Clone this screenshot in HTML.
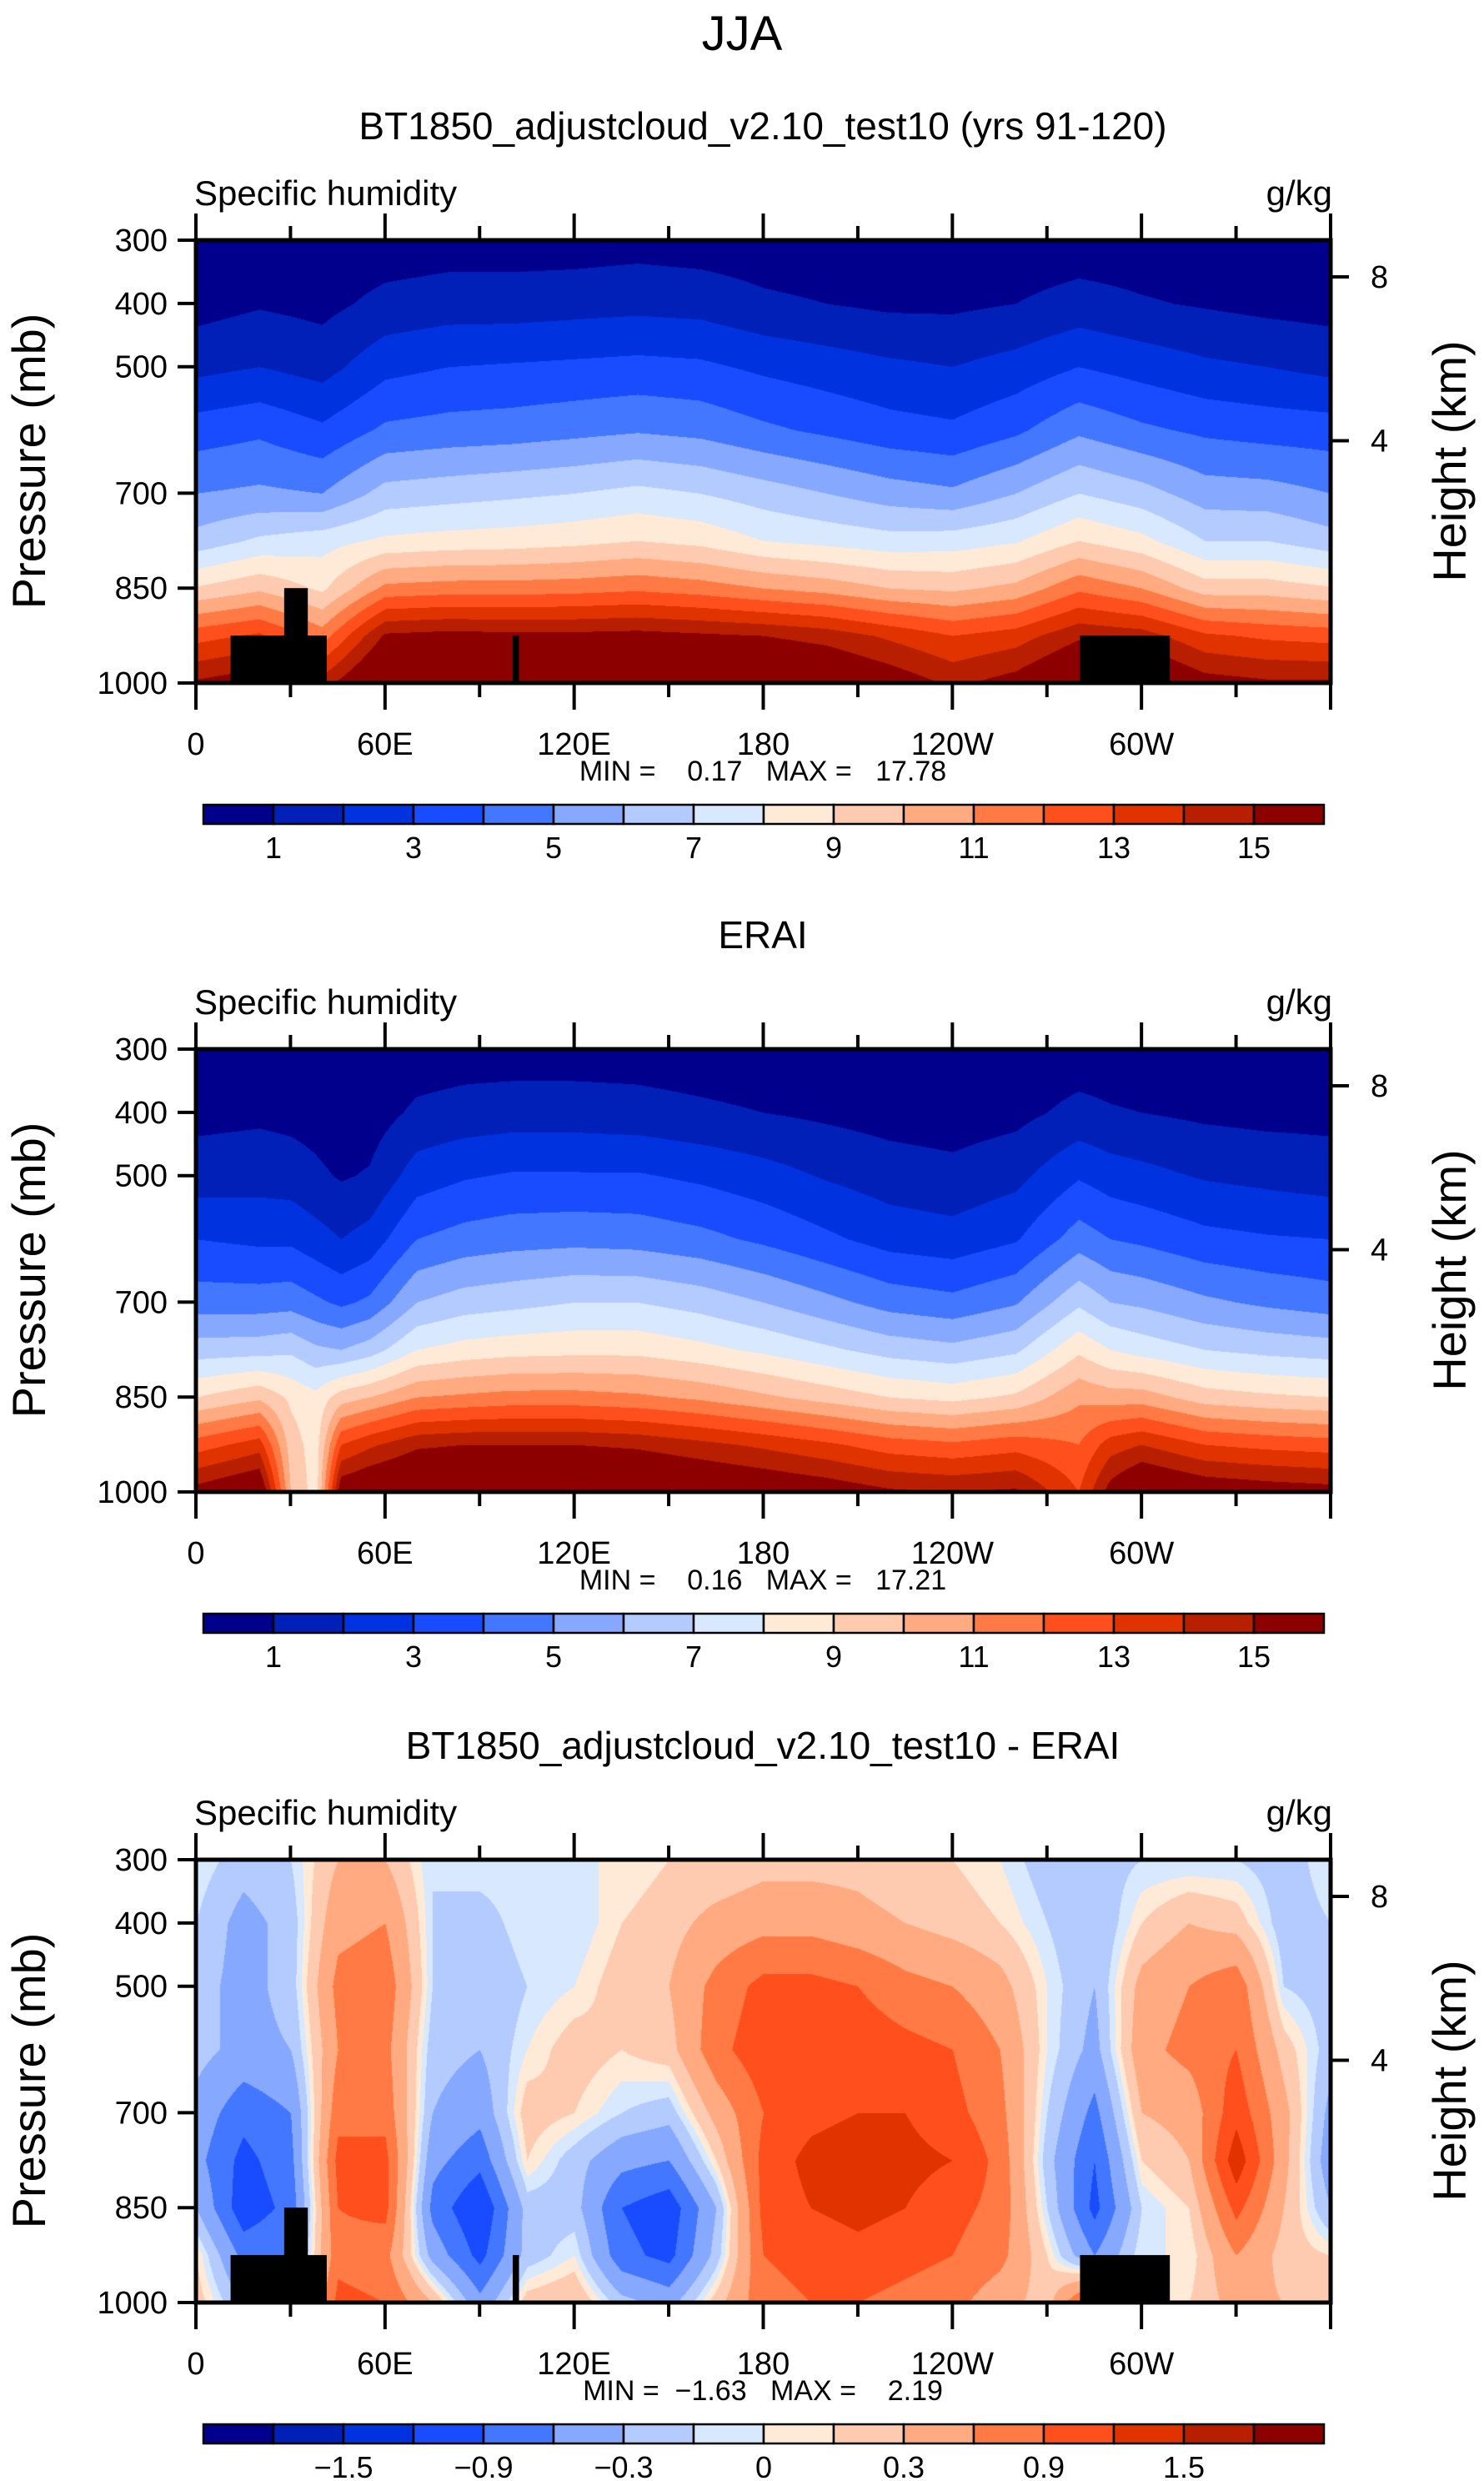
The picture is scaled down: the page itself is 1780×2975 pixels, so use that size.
<!DOCTYPE html>
<html><head><meta charset="utf-8">
<style>
html,body{margin:0;padding:0;background:#fff;}
#root{position:relative;width:1780px;height:2975px;overflow:hidden;background:#fff;}
canvas{position:absolute;}
svg{position:absolute;left:0;top:0;}
text{font-family:"Liberation Sans",sans-serif;fill:#000;}
.nar{font-family:"Liberation Sans Narrow","Liberation Sans",sans-serif;white-space:pre;}
</style></head>
<body>
<div id="root">
<svg id="svg" width="1780" height="2975">
<text x="890" y="60" font-size="58" text-anchor="middle" font-weight="300">JJA</text>
</svg>
</div>
<script>
// ---- data ----
const pressureLevels = [1000,925,850,775,700,600,500,400,300];
const lonGridA = [0,20,40,60,80,100,120,140,160,180,200,220,240,260,280,300,320,340,360];
const modelQ = [
[15.2,12.6,9.1,6.4,5.0,3.5,1.7,0.6,0.3],
[15.8,13.2,9.8,7.2,5.2,3.8,2.0,0.9,0.3],
[14.5,11.5,8.8,7.6,5.0,3.2,1.6,0.7,0.3],
[17.2,15.2,11.3,8.2,6.4,4.2,2.7,1.3,0.4],
[17.4,15.4,11.5,8.4,6.6,4.4,3.0,1.5,0.5],
[17.2,15.3,11.5,8.5,6.8,4.5,3.1,1.5,0.5],
[17.2,15.3,11.6,8.7,7.0,4.7,3.2,1.6,0.5],
[17.3,15.4,11.8,9.0,7.3,4.9,3.3,1.7,0.6],
[17.2,15.2,11.5,8.7,7.0,4.7,3.2,1.6,0.5],
[17.0,15.0,11.0,8.0,6.5,4.2,2.8,1.2,0.4],
[16.6,14.6,10.6,7.7,6.0,3.8,2.5,1.0,0.3],
[15.8,13.8,10.0,7.4,5.5,3.4,2.2,0.8,0.3],
[14.8,13.0,9.8,7.5,5.2,3.2,2.0,0.8,0.3],
[15.5,13.5,10.3,7.9,6.0,3.8,2.4,1.0,0.3],
[17.0,14.8,11.8,9.0,7.0,4.8,3.0,1.4,0.4],
[16.8,14.5,11.0,8.3,6.4,4.2,2.6,1.1,0.4],
[15.5,13.2,9.5,7.0,5.5,3.8,2.2,0.9,0.3],
[15.2,12.8,9.5,7.0,5.4,3.6,2.0,0.7,0.3],
[15.2,12.6,9.1,6.4,5.0,3.5,1.7,0.6,0.3]];
const lonGridB = [0,20,30,38,46,55,70,85,100,120,140,160,180,200,220,240,260,280,290,300,320,340,360];
const eraiQ = [
[15.5,12.5,9.0,6.5,4.5,3.0,1.5,0.7,0.3],
[16.5,13.5,9.8,6.6,4.5,2.8,1.6,0.8,0.3],
[10.0,9.5,8.8,6.8,4.6,2.8,1.5,0.7,0.3],
[8.5,8.5,8.3,6.2,4.2,2.4,1.2,0.6,0.2],
[16.0,13.0,9.5,6.0,3.8,2.0,0.9,0.4,0.2],
[16.5,13.8,10.0,6.5,4.2,2.4,1.1,0.5,0.2],
[17.0,14.8,11.0,8.0,6.0,4.0,2.5,1.2,0.4],
[17.2,15.0,11.2,8.4,6.5,4.4,2.9,1.4,0.5],
[17.2,15.0,11.4,8.6,6.7,4.6,3.1,1.5,0.5],
[17.2,15.0,11.4,8.7,7.0,4.7,3.1,1.5,0.5],
[17.0,14.8,11.2,8.7,7.0,4.6,3.1,1.4,0.5],
[16.6,14.3,10.8,8.3,6.6,4.3,2.8,1.2,0.4],
[16.2,13.8,10.2,7.8,6.0,3.8,2.4,1.0,0.3],
[15.8,13.2,9.6,7.2,5.3,3.2,1.9,0.8,0.3],
[15.2,12.5,9.0,6.6,4.6,2.6,1.5,0.6,0.2],
[15.0,12.2,8.7,6.3,4.3,2.4,1.3,0.5,0.2],
[15.2,12.6,9.2,6.8,4.9,2.9,1.7,0.7,0.3],
[13.0,12.0,10.8,8.8,6.8,4.5,2.9,1.3,0.4],
[15.5,13.5,10.5,8.0,6.0,4.0,2.5,1.1,0.4],
[16.8,14.0,10.5,7.6,5.8,3.8,2.3,1.0,0.3],
[16.0,13.0,9.5,7.0,5.2,3.3,1.9,0.8,0.3],
[15.7,12.7,9.2,6.7,4.8,3.1,1.7,0.7,0.3],
[15.5,12.5,9.0,6.5,4.5,3.0,1.5,0.7,0.3]];
const lonGridC = [0,15,30,45,60,75,90,105,120,135,150,165,180,195,210,225,240,255,270,285,300,315,330,345,360];
const diffQ = [
[0.2,0.1,-0.3,-0.5,-0.4,-0.2,-0.2,-0.1,0.0],
[-0.3,-0.7,-1.1,-1.0,-0.8,-0.4,-0.4,-0.4,-0.2],
[-0.3,-0.6,-0.8,-0.7,-0.6,-0.3,-0.2,-0.2,-0.1],
[1.0,0.8,0.9,1.0,0.8,0.6,0.7,0.5,0.3],
[0.9,0.7,1.0,1.0,0.8,0.7,0.8,0.6,0.3],
[0.3,-0.4,-0.7,-0.5,-0.3,-0.2,-0.1,-0.1,-0.1],
[-0.5,-1.0,-1.2,-0.8,-0.5,-0.3,-0.3,-0.2,0.0],
[0.2,-0.2,-0.2,0.1,0.2,0.0,-0.1,0.0,0.0],
[0.3,0.0,-0.2,-0.2,0.1,0.2,0.0,-0.1,0.0],
[-0.2,-0.8,-0.9,-0.5,-0.1,0.1,0.2,0.1,0.0],
[-0.4,-1.0,-1.1,-0.6,-0.2,0.2,0.3,0.2,0.1],
[0.2,-0.2,-0.3,0.1,0.4,0.8,0.7,0.4,0.1],
[0.8,0.9,1.0,1.0,0.9,1.1,1.0,0.5,0.2],
[0.9,1.0,1.2,1.3,1.1,1.1,1.0,0.5,0.2],
[0.9,1.1,1.3,1.4,1.2,1.1,0.9,0.4,0.2],
[0.8,1.0,1.2,1.3,1.2,1.0,0.7,0.3,0.1],
[0.7,0.9,1.0,1.2,1.0,0.9,0.6,0.2,0.1],
[0.4,0.7,0.8,0.8,0.7,0.6,0.4,0.1,0.0],
[0.2,0.1,-0.1,-0.2,-0.1,0.0,0.0,-0.1,-0.2],
[1.2,-0.6,-1.0,-0.9,-0.7,-0.4,-0.3,-0.3,-0.2],
[0.1,0.0,-0.1,0.1,0.3,0.5,0.4,0.1,-0.1],
[0.1,0.0,0.1,0.3,0.4,0.7,0.6,0.3,-0.1],
[0.4,0.6,1.0,1.4,1.1,0.9,0.8,0.2,-0.1],
[0.3,0.2,0.3,0.4,0.4,0.2,-0.1,-0.2,-0.2],
[0.2,0.1,-0.3,-0.5,-0.4,-0.2,-0.2,-0.1,0.0]];
const qLevels = [1,2,3,4,5,6,7,8,9,10,11,12,13,14,15];
const qLabels = ["1","3","5","7","9","11","13","15"];
const dLevels = [-1.8,-1.5,-1.2,-0.9,-0.6,-0.3,-0.1,0,0.1,0.3,0.6,0.9,1.2,1.5,1.8];
const dLabels = ["\u22121.5","\u22120.9","\u22120.3","0","0.3","0.9","1.5"];
const xTickLabels = ["0","60E","120E","180","120W","60W"];
const yTickValues = [300,400,500,700,850,1000];
const heightTicks = [8,4];
const heightTickP = [358,617];
const topoLon0 = [11,28,100.5,280.5];
const topoLon1 = [41.5,35.5,102.5,309];
const topoPTop = [925,850,925,925];
const colors = ["#00008c","#0020b8","#0033df","#1a4cff","#4477ff","#86a8ff","#b3cbff","#d7e8ff","#ffead8","#ffcbb0","#ffaa80","#ff7a45","#ff4f1c","#e03300","#b81f00","#8c0000"];

// ---- layout ----
const PX=235, PW=1361, PH=531;
const svg=document.getElementById('svg');
const NS='http://www.w3.org/2000/svg';
const xOf=lon=>PX+lon/360*PW;
const yOf=(p,T)=>T+(p-300)/700*PH;
function el(tag,attrs,txt){const e=document.createElementNS(NS,tag);for(const k in attrs)e.setAttribute(k,attrs[k]);if(txt!==undefined)e.textContent=txt;svg.appendChild(e);return e;}
function hex(c){return [parseInt(c.substr(1,2),16),parseInt(c.substr(3,2),16),parseInt(c.substr(5,2),16)];}
const rgb=colors.map(hex);

function interp(lonGrid,grid,lon,p){
  let i=0;while(i<lonGrid.length-2&&lon>lonGrid[i+1])i++;
  const fx=(lon-lonGrid[i])/(lonGrid[i+1]-lonGrid[i]);
  let j=0;while(j<pressureLevels.length-2&&p<pressureLevels[j+1])j++;
  const fy=(pressureLevels[j]-p)/(pressureLevels[j]-pressureLevels[j+1]);
  const a=grid[i][j],b=grid[i+1][j],c=grid[i][j+1],d=grid[i+1][j+1];
  return (a*(1-fx)+b*fx)*(1-fy)+(c*(1-fx)+d*fx)*fy;
}
function panel(T,name,title,lonGrid,grid,levels,labels,labelIdx,minmax,topo){
  const cv=document.createElement('canvas');
  cv.width=PW;cv.height=PH;cv.style.left=PX+'px';cv.style.top=T+'px';
  
  
  document.getElementById('root').insertBefore(cv,svg);
  const ctx=cv.getContext('2d');const img=ctx.createImageData(PW,PH);
  for(let y=0;y<PH;y++){const p=300+y/PH*700;
    for(let x=0;x<PW;x++){const lon=x/PW*360;const v=interp(lonGrid,grid,lon,p);
      let k=0;while(k<levels.length&&v>=levels[k])k++;
      const c=rgb[k];const o=(y*PW+x)*4;img.data[o]=c[0];img.data[o+1]=c[1];img.data[o+2]=c[2];img.data[o+3]=255;}}
  ctx.putImageData(img,0,0);
  if(topo){for(let i=0;i<topoLon0.length;i++){
    const r=el('rect',{x:xOf(topoLon0[i]),y:yOf(topoPTop[i],T),width:xOf(topoLon1[i])-xOf(topoLon0[i]),height:yOf(1000,T)-yOf(topoPTop[i],T),fill:'#000'});
    
    }}
  const fr=el('rect',{x:PX,y:T,width:PW,height:PH,fill:'none',stroke:'#000','stroke-width':5});
  
  const t=el('text',{x:915,y:T-121,'font-size':46,'text-anchor':'middle'},title);
  
  const s=el('text',{x:PX-2,y:T-42,'font-size':42,'font-weight':'300'},'Specific humidity');
  
  const u=el('text',{x:PX+PW+2,y:T-42,'font-size':42,'text-anchor':'end','font-weight':'300'},'g/kg');
  
  for(let lon=0;lon<=360;lon+=30){const maj=lon%60===0;const L=maj?32:17;const x=xOf(lon);
    el('line',{x1:x,y1:T,x2:x,y2:T-L,stroke:'#000','stroke-width':4});
    el('line',{x1:x,y1:T+PH,x2:x,y2:T+PH+L,stroke:'#000','stroke-width':4});}
  xTickLabels.forEach((lb,i)=>{const e=el('text',{x:xOf(i*60),y:T+PH+86,'font-size':38,'text-anchor':'middle',class:'nar'},lb);
    });
  yTickValues.forEach(p=>{const y=yOf(p,T);el('line',{x1:PX,y1:y,x2:PX-22,y2:y,stroke:'#000','stroke-width':4});
    const e=el('text',{x:PX-34,y:y+13,'font-size':38,'text-anchor':'end','font-weight':'300'},String(p));
    });
  heightTicks.forEach((h,i)=>{const y=yOf(heightTickP[i],T);el('line',{x1:PX+PW,y1:y,x2:PX+PW+22,y2:y,stroke:'#000','stroke-width':4});
    const e=el('text',{x:PX+PW+48,y:y+13,'font-size':38,'font-weight':'300'},String(h));
    });
  const ya=el('text',{x:0,y:0,'font-size':56,'text-anchor':'middle','font-weight':'300',transform:`translate(54,${T+265}) rotate(-90)`},'Pressure (mb)');
  
  const ha=el('text',{x:0,y:0,'font-size':56,'text-anchor':'middle','font-weight':'300',transform:`translate(1758,${T+265}) rotate(-90)`},'Height (km)');
  
  const mm=el('text',{x:915,y:T+648,'font-size':34,'text-anchor':'middle',class:'nar'},minmax);
  
  const cx0=244,cw=1344/16,cy=T+677,ch=23;
  for(let k=0;k<16;k++){const r=el('rect',{x:cx0+k*cw,y:cy,width:cw,height:ch,fill:colors[k],stroke:'#000','stroke-width':2.5});
    }
  labels.forEach((lb,i)=>{const e=el('text',{x:cx0+labelIdx[i]*cw,y:T+741,'font-size':36,'text-anchor':'middle',class:'nar'},lb);
    });
}
panel(288,'model-panel','BT1850_adjustcloud_v2.10_test10 (yrs 91-120)',lonGridA,modelQ,qLevels,qLabels,[1,3,5,7,9,11,13,15],'MIN =    0.17   MAX =   17.78',true);
panel(1258,'erai-panel','ERAI',lonGridB,eraiQ,qLevels,qLabels,[1,3,5,7,9,11,13,15],'MIN =    0.16   MAX =   17.21',false);
panel(2230,'difference-panel','BT1850_adjustcloud_v2.10_test10 - ERAI',lonGridC,diffQ,dLevels,dLabels,[2,4,6,8,10,12,14],'MIN =  \u22121.63   MAX =    2.19',true);
</script>
</body></html>
